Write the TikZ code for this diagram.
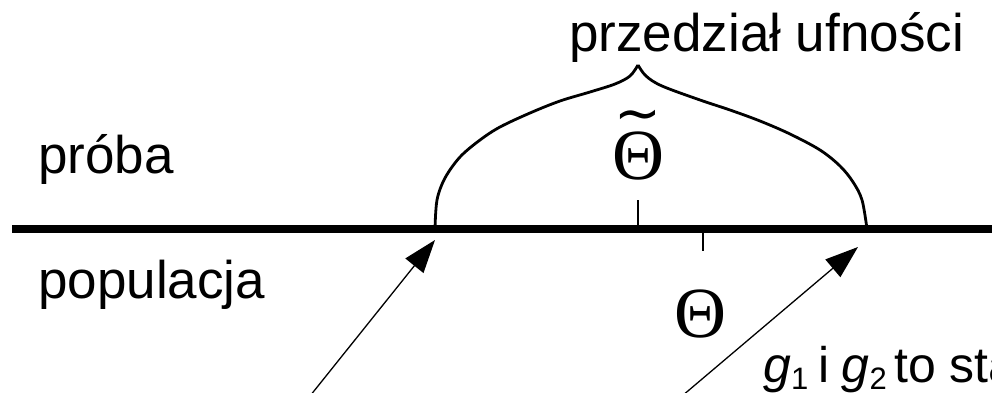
\documentclass[tikz,border=0pt]{standalone}
\usepackage{fontspec}
\setmainfont{Liberation Sans}
\newfontfamily\thetafont{Liberation Serif}
\newfontfamily\tildefont{DejaVu Sans}
\usetikzlibrary{arrows.meta}
\begin{document}
\begin{tikzpicture}[x=1pt,y=-1pt,
  lbl/.style={inner sep=0pt,anchor=base west,font=\fontsize{53}{60}\selectfont},
  thetanode/.style={inner sep=0pt,font=\thetafont\fontsize{72}{74}\selectfont},
  axis/.style={line width=7.5pt},
  tickline/.style={line width=2.8pt},
  bracepath/.style={line width=2.8pt,line join=round},
  bigarrow/.style={line width=1.3pt,-{Triangle[length=33pt,width=23pt]}}]
\useasboundingbox (0,0) rectangle (992,393);
% axis
\coordinate (axL) at (12,229);
\coordinate (axR) at (995,229);
\draw[axis] (axL) -- (axR);
% labels
\node[lbl] (proba) at (38,173) {próba};
\node[lbl] (pop) at (38,298) {populacja};
\node[lbl] (title) at (569,52) {przedział ufności};
\node[lbl,font=\fontsize{50}{56}\selectfont] (glab) at (763,382) {\textit{g}\raisebox{-0.3ex}{\fontsize{31}{34}\selectfont 1}\hspace{0.2em}i\hspace{0.25em}\textit{g}\raisebox{-0.3ex}{\fontsize{31}{34}\selectfont 2}\hspace{0.15em}to stałe};
% thetas
\node[thetanode,anchor=center] (thtil) at (638,145) {\ooalign{\hidewidth\raisebox{47pt}{\tildefont\fontsize{56}{56}\selectfont\char"007E}\hidewidth\cr Θ\cr}};
\node[thetanode] (th) at (700,314) {Θ};
% ticks
\coordinate (t1a) at (638,200);
\coordinate (t1b) at (638,229);
\draw[tickline] (t1a) -- (t1b);
\coordinate (t2a) at (703,229);
\coordinate (t2b) at (703,251);
\draw[tickline] (t2a) -- (t2b);
% brace
\draw[bracepath] plot[smooth,tension=0.55] coordinates {(435,229) (437,200) (445,178) (460,157) (480,140) (500,127) (530,113) (560,101) (590,92) (615,84) (630,76) (638,65)};
\draw[bracepath] plot[smooth,tension=0.55] coordinates {(638,65) (646,76) (662,86) (700,100) (730,110) (760,121) (790,134) (820,150) (840,166) (853,182) (862,200) (867,229)};
% arrows
\coordinate (a1s) at (310,396);
\coordinate (a1e) at (435,240);
\coordinate (a2s) at (682,396);
\coordinate (a2e) at (858,247);
\draw[bigarrow] (a1s) -- (a1e);
\draw[bigarrow] (a2s) -- (a2e);
\end{tikzpicture}
\end{document}
